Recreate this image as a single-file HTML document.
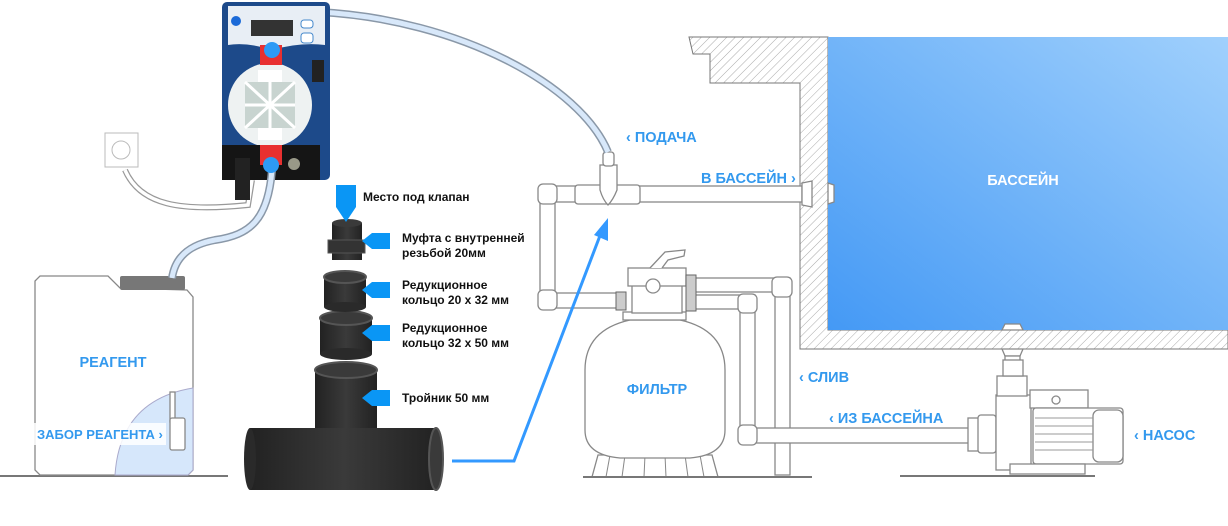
<!DOCTYPE html>
<html><head><meta charset="utf-8"><style>
html,body{margin:0;padding:0;background:#fff;}
svg{display:block;}
.b{font-family:"Liberation Sans",sans-serif;font-weight:bold;fill:#3399ee;font-size:14.5px;}
.k{font-family:"Liberation Sans",sans-serif;font-weight:bold;fill:#111;font-size:12px;}
.p{fill:#fff;stroke:#888;stroke-width:1.3;}
</style></head><body>
<svg width="1228" height="526" viewBox="0 0 1228 526" xmlns="http://www.w3.org/2000/svg">
<defs>
<pattern id="h" width="6" height="6" patternUnits="userSpaceOnUse" patternTransform="rotate(45)">
<rect width="6" height="6" fill="#fff"/><line x1="0" y1="0" x2="0" y2="6" stroke="#aaa" stroke-width="1"/></pattern>
<linearGradient id="g" x1="0" y1="1" x2="1" y2="0"><stop offset="0" stop-color="#4499f5"/><stop offset="1" stop-color="#a0d0fc"/></linearGradient>
<linearGradient id="bk" x1="0" y1="0" x2="1" y2="0"><stop offset="0" stop-color="#222"/><stop offset=".5" stop-color="#3a3a3a"/><stop offset="1" stop-color="#222"/></linearGradient>
</defs>
<polygon points="689,37 828,37 828,330 1228,330 1228,349 800,349 800,83 710,83 710,54 693,54" fill="url(#h)" stroke="#777" stroke-width="1"/>
<rect x="828" y="37" width="400" height="293" fill="url(#g)"/>
<text x="1023" y="185" class="b" style="fill:#fff" text-anchor="middle">БАССЕЙН</text>
<polygon points="828,183 834,185 834,202 828,204" class="p"/>
<polygon points="1002,330 1005,324 1020,324 1023,330" class="p"/>
<polygon points="1002,349 1023,349 1020,356 1005,356" class="p"/>
<rect x="1005" y="356" width="15" height="24" class="p"/>
<rect x="540" y="186" width="262" height="16" class="p"/>
<polygon points="802,183 812,181 812,207 802,205" class="p"/>
<rect x="540" y="190" width="15" height="118" class="p"/>
<rect x="540" y="293" width="80" height="15" class="p"/>
<rect x="538" y="184" width="19" height="20" rx="5" class="p"/>
<rect x="538" y="290" width="19" height="20" rx="5" class="p"/>
<rect x="575" y="185" width="65" height="19" rx="3" class="p"/>
<path d="M600,165 L617,165 L617,190 Q613,200 608,205 Q603,200 600,190 Z" class="p"/>
<rect x="603" y="152" width="11" height="14" rx="3" class="p"/>
<rect x="690" y="278" width="100" height="14" class="p"/>
<rect x="775" y="285" width="15" height="190" class="p"/>
<rect x="772" y="277" width="20" height="20" rx="5" class="p"/>
<rect x="690" y="295" width="65" height="14" class="p"/>
<rect x="740" y="300" width="15" height="140" class="p"/>
<rect x="738" y="294" width="19" height="19" rx="5" class="p"/>
<rect x="740" y="428" width="230" height="15" class="p"/>
<rect x="738" y="425" width="19" height="20" rx="5" class="p"/>
<path d="M598,455 L712,455 L718,477 L592,477 Z" class="p"/>
<g stroke="#888"><line x1="610" y1="455" x2="606" y2="477"/><line x1="625" y1="455" x2="622" y2="477"/><line x1="645" y1="455" x2="644" y2="477"/><line x1="665" y1="455" x2="666" y2="477"/><line x1="685" y1="455" x2="688" y2="477"/><line x1="700" y1="455" x2="704" y2="477"/></g>
<path d="M630,320 Q585,330 585,370 L585,430 Q585,455 620,458 L690,458 Q725,455 725,430 L725,370 Q725,330 680,320 Z" class="p"/>
<rect x="623" y="312" width="63" height="8" class="p"/>
<rect x="632" y="285" width="50" height="28" class="p"/>
<rect x="628" y="268" width="58" height="18" class="p"/>
<path d="M650,268 L665,252 L685,250 L684,256 L668,260 L662,268" class="p"/>
<circle cx="653" cy="286" r="7" class="p"/>
<rect x="616" y="292" width="10" height="18" fill="#ccc" stroke="#666"/>
<rect x="686" y="275" width="10" height="36" fill="#ccc" stroke="#666"/>
<text x="657" y="394" class="b" text-anchor="middle">ФИЛЬТР</text>
<line x1="583" y1="477" x2="812" y2="477" stroke="#777" stroke-width="2"/>
<rect x="968" y="418" width="22" height="33" class="p"/>
<rect x="978" y="415" width="18" height="38" rx="3" class="p"/>
<rect x="996" y="395" width="35" height="75" class="p"/>
<rect x="997" y="376" width="30" height="20" class="p"/>
<rect x="1003" y="360" width="20" height="16" class="p"/>
<rect x="1030" y="390" width="58" height="18" class="p"/>
<rect x="1033" y="408" width="90" height="56" rx="3" class="p"/>
<rect x="1093" y="410" width="30" height="52" rx="6" class="p"/>
<g stroke="#999"><line x1="1035" y1="418" x2="1093" y2="418"/><line x1="1035" y1="426" x2="1093" y2="426"/><line x1="1035" y1="434" x2="1093" y2="434"/><line x1="1035" y1="442" x2="1093" y2="442"/><line x1="1035" y1="450" x2="1093" y2="450"/></g>
<circle cx="1056" cy="400" r="4" class="p"/>
<rect x="1010" y="464" width="75" height="10" class="p"/>
<line x1="900" y1="476" x2="1095" y2="476" stroke="#777" stroke-width="2"/>
<text x="626" y="142" class="b">‹ ПОДАЧА</text>
<text x="701" y="183" class="b">В БАССЕЙН ›</text>
<text x="799" y="382" class="b">‹ СЛИВ</text>
<text x="829" y="423" class="b">‹ ИЗ БАССЕЙНА</text>
<text x="1134" y="440" class="b">‹ НАСОС</text>
<line x1="0" y1="476" x2="228" y2="476" stroke="#777" stroke-width="2"/>
<path d="M40,276 L108,276 L120,288 L187,290 L193,297 L193,470 L188,475 L40,475 L35,470 L35,281 Z" class="p"/>
<path d="M115,475 Q120,400 193,388 L193,470 L188,475 Z" fill="#d6e7fb" stroke="#aac"/>
<rect x="170" y="392" width="5" height="30" class="p"/>
<rect x="170" y="418" width="15" height="32" rx="2" class="p"/>
<rect x="120" y="276" width="65" height="14" rx="2" fill="#777"/>
<text x="113" y="367" class="b" text-anchor="middle">РЕАГЕНТ</text>
<rect x="34" y="423" width="132" height="22" fill="#fff" opacity=".85"/>
<text x="37" y="439" class="b" style="font-size:13px">ЗАБОР РЕАГЕНТА ›</text>
<rect x="105" y="133" width="33" height="34" fill="#fff" stroke="#bbb"/>
<circle cx="121" cy="150" r="9" fill="none" stroke="#bbb"/>
<path d="M125,170 C140,205 180,212 248,205 L252,180" fill="none" stroke="#999" stroke-width="6"/>
<path d="M125,170 C140,205 180,212 248,205 L252,180" fill="none" stroke="#fff" stroke-width="3.5"/>
<path d="M272,50 C275,20 290,12 320,12 C460,20 580,85 608,152" fill="none" stroke="#8a98a8" stroke-width="8"/>
<path d="M272,50 C275,20 290,12 320,12 C460,20 580,85 608,152" fill="none" stroke="#d8e8fa" stroke-width="5"/>
<rect x="222" y="2" width="108" height="178" rx="5" fill="#1d4a8a"/>
<path d="M228,6 L325,6 L325,45 Q300,42 272,50 Q248,42 228,45 Z" fill="#e8eef5"/>
<rect x="251" y="20" width="42" height="16" fill="#333"/>
<circle cx="236" cy="21" r="5" fill="#1b6ad8"/>
<rect x="301" y="20" width="12" height="8" rx="3" fill="#fff" stroke="#48c"/>
<rect x="301" y="33" width="12" height="10" rx="3" fill="#fff" stroke="#48c"/>
<circle cx="270" cy="105" r="42" fill="#eef2f2"/>
<rect x="258" y="70" width="24" height="70" fill="#fff"/>
<rect x="245" y="82" width="50" height="46" fill="#c8d4d0"/>
<path d="M245,82 L295,128 M295,82 L245,128 M270,82 V128 M245,105 H295" stroke="#fff" stroke-width="3"/>
<rect x="222" y="145" width="98" height="35" fill="#151515"/>
<rect x="235" y="158" width="15" height="42" fill="#222"/>
<rect x="260" y="45" width="22" height="20" fill="#e83030"/>
<rect x="260" y="145" width="22" height="20" fill="#e83030"/>
<rect x="312" y="60" width="12" height="22" fill="#222"/>
<circle cx="294" cy="164" r="6" fill="#998"/>
<path d="M272,170 C268,220 250,235 215,240 C188,245 175,258 172,278" fill="none" stroke="#8a98a8" stroke-width="8"/>
<path d="M272,170 C268,220 250,235 215,240 C188,245 175,258 172,278" fill="none" stroke="#d8e8fa" stroke-width="5"/>
<circle cx="272" cy="50" r="8" fill="#2d9af5"/>
<circle cx="271" cy="165" r="8" fill="#2d9af5"/>
<rect x="315" y="368" width="62" height="65" fill="url(#bk)"/>
<ellipse cx="346" cy="370" rx="31" ry="8" fill="#3a3a3a" stroke="#555" stroke-width="2"/>
<rect x="250" y="428" width="188" height="62" fill="url(#bk)"/>
<ellipse cx="250" cy="459" rx="6" ry="31" fill="#2a2a2a"/>
<ellipse cx="436" cy="459" rx="7" ry="31" fill="#3a3a3a" stroke="#555" stroke-width="2"/>
<rect x="320" y="318" width="52" height="36" fill="url(#bk)"/>
<ellipse cx="346" cy="354" rx="26" ry="6" fill="#2a2a2a"/>
<ellipse cx="346" cy="318" rx="26" ry="7" fill="#3a3a3a" stroke="#555" stroke-width="2"/>
<rect x="324" y="277" width="42" height="30" fill="url(#bk)"/>
<ellipse cx="345" cy="307" rx="21" ry="5" fill="#2a2a2a"/>
<ellipse cx="345" cy="277" rx="21" ry="6" fill="#3a3a3a" stroke="#555" stroke-width="2"/>
<rect x="332" y="223" width="30" height="37" fill="url(#bk)"/>
<ellipse cx="347" cy="223" rx="15" ry="4" fill="#3a3a3a"/>
<rect x="328" y="240" width="37" height="13" fill="#333" stroke="#555"/>
<polygon points="336,185 356,185 356,207 346,222 336,207" fill="#0a96f5"/>
<polygon points="362,241 372,233 390,233 390,249 372,249" fill="#0a96f5"/>
<polygon points="362,290 372,282 390,282 390,298 372,298" fill="#0a96f5"/>
<polygon points="362,333 372,325 390,325 390,341 372,341" fill="#0a96f5"/>
<polygon points="362,398 372,390 390,390 390,406 372,406" fill="#0a96f5"/>
<text x="363" y="201" class="k">Место под клапан</text>
<text x="402" y="242" class="k">Муфта с внутренней</text>
<text x="402" y="257" class="k">резьбой 20мм</text>
<text x="402" y="289" class="k">Редукционное</text>
<text x="402" y="304" class="k">кольцо 20 х 32 мм</text>
<text x="402" y="332" class="k">Редукционное</text>
<text x="402" y="347" class="k">кольцо 32 х 50 мм</text>
<text x="402" y="402" class="k">Тройник 50 мм</text>
<polyline points="452,461 514,461 601,233" fill="none" stroke="#3399ff" stroke-width="3"/>
<polygon points="608,218 608,241 594,235" fill="#3399ff"/>
</svg>
</body></html>
